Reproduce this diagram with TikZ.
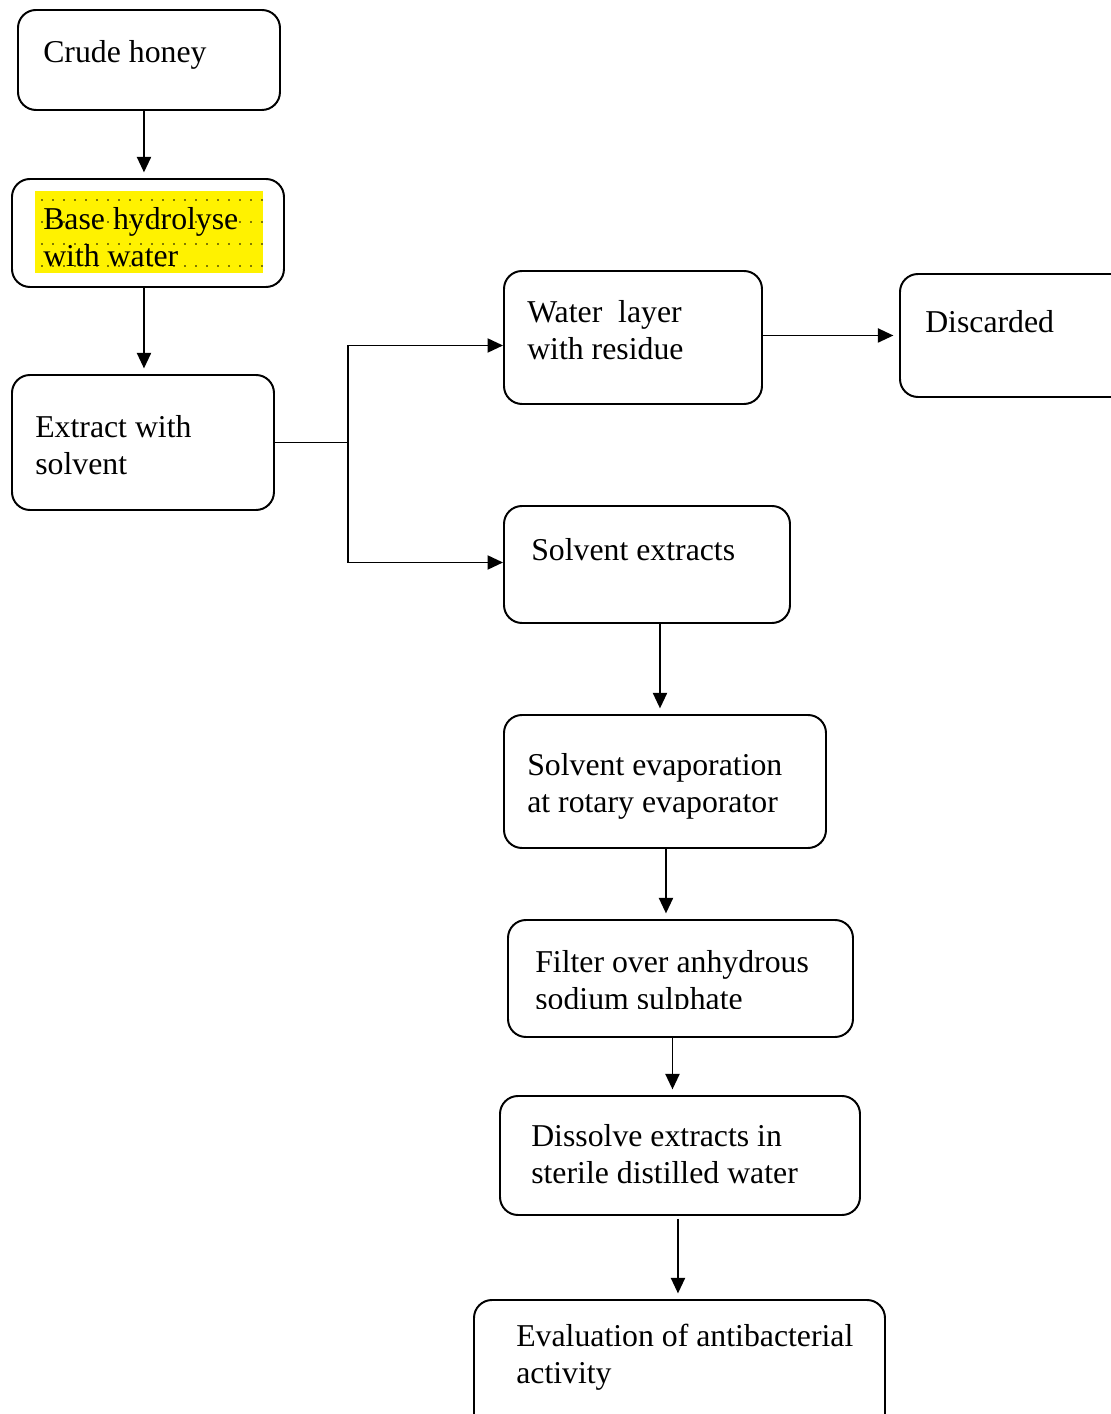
\documentclass[tikz,border=0pt]{standalone}
\usepackage{fontspec}
\setmainfont{Liberation Serif}
\usetikzlibrary{arrows.meta,calc}

\begin{document}
\begin{tikzpicture}[x=0.025cm,y=-0.025cm,
  box/.style={draw,line width=1.4pt,rounded corners=0.45cm,anchor=north west},
  boxwh/.style 2 args={minimum width=#1*0.025cm,minimum height=#2*0.025cm},
  txt/.style={anchor=west,align=left,inner sep=0pt,font=\fontsize{22.6}{26.3}\selectfont},
  arr/.style={-{Triangle[length=11pt,width=10pt]},line width=1.3pt,shorten >=4pt}]
\useasboundingbox (0,0) rectangle (1111,1414);
\clip (0,0) rectangle (1111,1414);

% Left column
\node[box,boxwh={262}{100}] (crude) at (17,9) {};
\node[txt] (crudetxt) at (43,55) {Crude honey};

\fill[yellow] (35,191) rectangle (263,273);
\foreach \i in {0,...,20}
  \foreach \j in {0,...,3}
    \fill (42+\i*11,200+\j*22) circle (0.9);
\node[box,boxwh={272}{108}] (base) at (11,178) {};
\node[txt] (basetxt) at (43,237) {Base hydrolyse\\with water};

\node[box,boxwh={262}{135}] (extract) at (11,374) {};
\node[txt] (extracttxt) at (35,445) {Extract with\\solvent};

% Right column
\node[box,boxwh={258}{133}] (water) at (503,270) {};
\node[txt] (watertxt) at (527,330) {Water\ \ layer\\with residue};

\node[box,boxwh={240}{123}] (discard) at (899,273) {};
\node[txt] (discardtxt) at (925,322) {Discarded};

\node[box,boxwh={286}{117}] (solv) at (503,505) {};
\node[txt] (solvtxt) at (531,550) {Solvent extracts};

\node[box,boxwh={322}{133}] (evap) at (503,714) {};
\node[txt] (evaptxt) at (527,786) {Solvent evaporation\\at rotary evaporator};

\node[box,boxwh={345}{117}] (filter) at (507,919) {};
\begin{scope}
  \clip (507,919) rectangle (852,1008);
  \node[txt] (filtertxt) at (535,983) {Filter over anhydrous\\sodium sulphate};
\end{scope}

\node[box,boxwh={360}{119}] (dissolve) at (499,1095) {};
\node[txt] (dissolvetxt) at (531,1154) {Dissolve extracts in\\sterile distilled water};

\node[box,boxwh={411}{140}] (eval) at (473,1299) {};
\node[txt] (evaltxt) at (516,1357) {Evaluation of antibacterial\\activity};

% Connectors
\draw[arr] ($(crude.south)+(-5,0)$) -- ($(crude.south |- base.north)+(-5,0)$);
\draw[arr] ($(base.south)+(-4,0)$) -- ($(base.south |- extract.north)+(-4,0)$);

\draw[line width=1.3pt] (extract.east) -- ++(73,0) coordinate (split);
\draw[arr,shorten >=0pt] (split) |- ($(water.west)+(0,8)$);
\draw[arr,shorten >=0pt] (split) |- ($(solv.west)+(0,-2)$);
\draw[arr] (water.east |- discard.west) -- (discard.west);

\draw[arr] ($(solv.south)+(13,0)$) -- ($(solv.south |- evap.north)+(13,0)$);
\draw[arr] ($(evap.south)+(1,0)$) -- ($(evap.south |- filter.north)+(1,0)$);
\draw[arr] ($(filter.south)+(-8,0)$) -- ($(filter.south |- dissolve.north)+(-8,0)$);
\draw[arr] ($(dissolve.south)+(-2,3)$) -- ($(dissolve.south |- eval.north)+(-2,0)$);
\end{tikzpicture}
\end{document}
